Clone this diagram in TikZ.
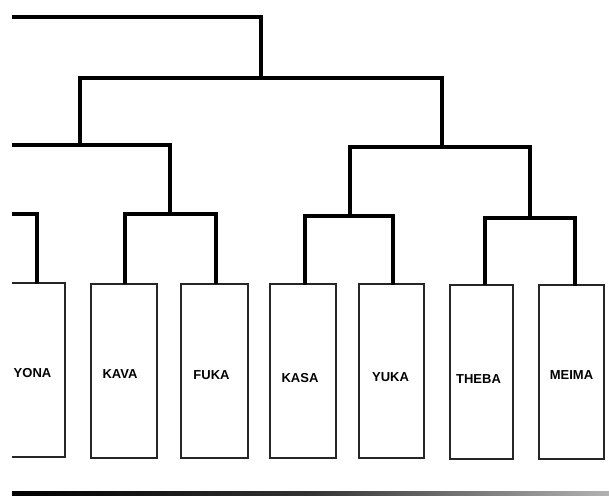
\documentclass[tikz,border=0pt]{standalone}
\usepackage{fontspec}
\newfontfamily\lblfont{Liberation Sans}
\begin{document}
\begin{tikzpicture}[x=1pt,y=-1pt,
  leaf/.style={draw=black!85,line width=2pt,minimum width=#1,minimum height=174pt,inner sep=0pt},
  lbl/.style={font=\lblfont\bfseries\fontsize{13}{13}\selectfont,inner sep=0pt},
  tree/.style={draw=black,line width=3.2pt,line cap=rect}]
\useasboundingbox (0,0) rectangle (609,496);
\clip (12,0) rectangle (609,496);
% leaves
\node[leaf=65pt,label={[lbl,xshift=0pt,yshift=-3pt]center:YONA}]  (yona)  at (32.5,370) {};
\node[leaf=66pt,label={[lbl,xshift=-4pt,yshift=-4pt]center:KAVA}]  (kava)  at (124,370.5) {};
\node[leaf=67pt,label={[lbl,xshift=-3pt,yshift=-5pt]center:FUKA}]  (fuka)  at (214.5,370.5) {};
\node[leaf=66pt,label={[lbl,xshift=-3pt,yshift=-7pt]center:KASA}]  (kasa)  at (303,371) {};
\node[leaf=65pt,label={[lbl,xshift=-1pt,yshift=-6pt]center:YUKA}]  (yuka)  at (391.5,371) {};
\node[leaf=63pt,label={[lbl,xshift=-3pt,yshift=-8pt]center:THEBA}] (theba) at (481.5,371.5) {};
\node[leaf=65pt,label={[lbl,xshift=0pt,yshift=-3pt]center:MEIMA}]  (meima) at (571.5,372) {};
% joints
\coordinate (ja) at (-20,214);
\coordinate (jb) at (170,214);
\coordinate (jc) at (350,216);
\coordinate (jd) at (530,218);
\coordinate (jl) at (80,145);
\coordinate (jlx) at (-20,145);
\coordinate (jr) at (442,147);
\coordinate (jm) at (261,78);
\coordinate (jt) at (-20,17);
% level 4
\draw[tree] ([xshift=4.5pt]yona.north) |- (ja);
\draw[tree] ([xshift=1pt]kava.north) |- (jb) -| ([xshift=1.5pt]fuka.north);
\draw[tree] ([xshift=2pt]kasa.north) |- (jc) -| ([xshift=1.5pt]yuka.north);
\draw[tree] ([xshift=3.5pt]theba.north) |- (jd) -| ([xshift=3.5pt]meima.north);
% level 3
\draw[tree] (jb) -- (170,145) -- (jlx);
\draw[tree] (jc) |- (jr) -| (jd);
% level 2
\draw[tree] (jl) |- (jm) -| (jr);
% level 1
\draw[tree] (jm) |- (jt);
% bottom rule
\shade[left color=black,right color=black!30,middle color=black!80] (10,491) rectangle (609,495.5);
\end{tikzpicture}
\end{document}
